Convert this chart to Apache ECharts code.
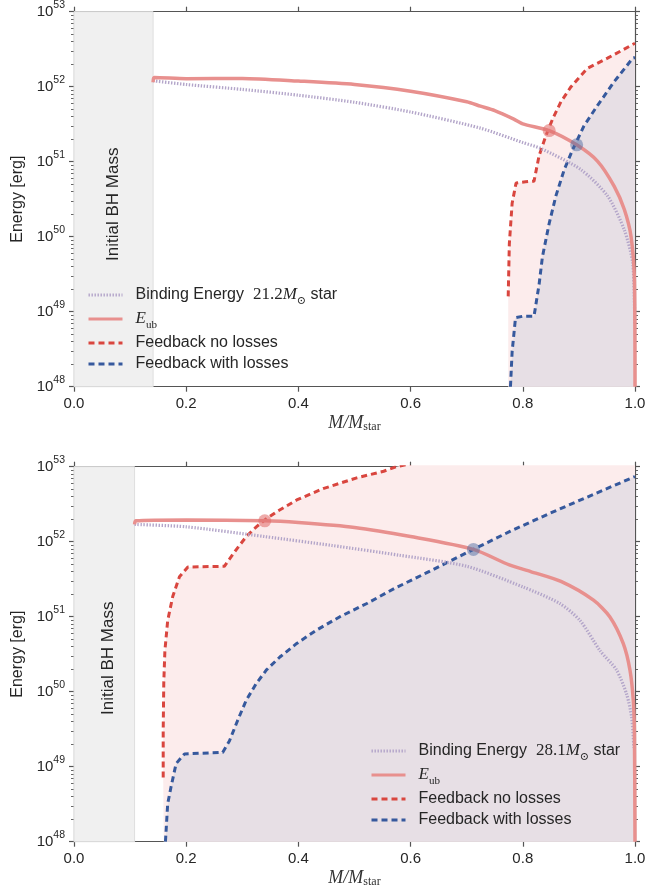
<!DOCTYPE html>
<html>
<head>
<meta charset="utf-8">
<script src="https://cdn.jsdelivr.net/npm/echarts@6/dist/echarts.min.js"></script>
<style>html,body{margin:0;padding:0;background:#fff}#c{width:668px;height:890px}</style>
</head>
<body>
<div id="c"></div>
<script>
// ---------------- data ----------------
const xTicks = [0, 0.2, 0.4, 0.6, 0.8, 1.0];
const yTickExps = [48, 49, 50, 51, 52, 53];
const starMass = ['21.2', '28.1'];
const bhMass = [0.141, 0.108];

// top panel (21.2 Msun)
const topBindX = [0.141, 0.2, 0.3, 0.4, 0.5, 0.6, 0.7245, 0.8, 0.832, 0.903, 0.951, 0.981, 0.996, 0.9995];
const topBindE = [1.2e52, 1.07e52, 9.2e51, 7.7e51, 6.2e51, 4.6e51, 2.8e51, 1.8e51, 1.5e51, 7.9e50, 3.5e50, 1.23e50, 4.4e49, 6.9e48];
const topEubX = [0.141, 0.143, 0.2, 0.3, 0.4, 0.5, 0.6, 0.7, 0.7245, 0.75, 0.784, 0.8, 0.847, 0.896, 0.933, 0.963, 0.981, 0.993, 0.999, 1.0];
const topEubE = [1.15e52, 1.33e52, 1.28e52, 1.29e52, 1.19e52, 1.07e52, 8.7e51, 6.3e51, 5.5e51, 4.8e51, 3.7e51, 3.2e51, 2.6e51, 1.68e51, 1.02e51, 4.7e50, 2.3e50, 1.0e50, 2.6e49, 1e48];
const topNoX = [0.774, 0.776, 0.781, 0.788, 0.805, 0.82, 0.829, 0.841, 0.853, 0.868, 0.886, 0.915, 0.951, 0.975, 1.0];
const topNoE = [1.6e49, 8e49, 2.8e50, 5.2e50, 5.4e50, 5.5e50, 1.2e51, 2.2e51, 3.7e51, 6.3e51, 1.0e52, 1.76e52, 2.4e52, 3.0e52, 3.8e52];
const topLossX = [0.778, 0.781, 0.787, 0.80, 0.82, 0.829, 0.835, 0.847, 0.859, 0.874, 0.888, 0.909, 0.933, 0.963, 0.996, 1.0];
const topLossE = [1e48, 2.95e48, 8.3e48, 8.7e48, 8.7e48, 2.3e49, 5.4e49, 1.5e50, 3.5e50, 7.9e50, 1.4e51, 3.0e51, 5.6e51, 1.17e52, 2.4e52, 2.45e52];
const topCrossNo = [0.847, 2.6e51];
const topCrossLoss = [0.896, 1.68e51];

// bottom panel (28.1 Msun)
const botBindX = [0.108, 0.2, 0.34, 0.46, 0.58, 0.7, 0.8, 0.866, 0.902, 0.938, 0.967, 0.985, 0.994, 0.998];
const botBindE = [1.7e52, 1.58e52, 1.17e52, 8.9e51, 6.6e51, 4.7e51, 2.5e51, 1.5e51, 8.9e50, 3.5e50, 1.95e50, 9.3e49, 4.6e49, 1.8e49];
const botEubX = [0.108, 0.11, 0.2, 0.34, 0.4, 0.5, 0.6, 0.712, 0.776, 0.814, 0.868, 0.926, 0.955, 0.979, 0.991, 0.997, 0.999, 1.0];
const botEubE = [1.7e52, 1.9e52, 1.95e52, 1.9e52, 1.8e52, 1.55e52, 1.17e52, 7.9e51, 4.9e51, 4.0e51, 2.95e51, 1.66e51, 1.0e51, 4.4e50, 1.95e50, 7.6e49, 2.75e49, 1e48];
const botNoX = [0.159, 0.159, 0.16, 0.162, 0.167, 0.176, 0.188, 0.203, 0.268, 0.289, 0.307, 0.325, 0.34, 0.361, 0.397, 0.444, 0.504, 0.552, 0.575, 0.65, 0.75, 0.85, 1.0];
const botNoE = [7.2e48, 3.0e49, 1.29e50, 3.5e50, 8.9e50, 1.86e51, 3.4e51, 4.6e51, 4.7e51, 7.8e51, 1.17e52, 1.58e52, 1.95e52, 2.5e52, 3.6e52, 5.1e52, 7.1e52, 8.7e52, 1.0e53, 1.32e53, 1.82e53, 2.4e53, 3.5e53];
const botLossX = [0.163, 0.167, 0.173, 0.182, 0.197, 0.265, 0.277, 0.292, 0.307, 0.325, 0.343, 0.367, 0.397, 0.432, 0.474, 0.522, 0.572, 0.627, 0.712, 0.778, 0.854, 0.93, 1.0];
const botLossE = [1e48, 3.2e48, 5.4e48, 1.1e49, 1.48e49, 1.55e49, 2.2e49, 4.2e49, 7.7e49, 1.29e50, 1.95e50, 2.9e50, 4.4e50, 6.6e50, 1e51, 1.5e51, 2.4e51, 3.8e51, 7.9e51, 1.38e52, 2.5e52, 4.4e52, 7.4e52];
const botCrossNo = [0.34, 1.9e52];
const botCrossLoss = [0.712, 7.9e51];

// ---------------- styling ----------------
const SANS = "'Liberation Sans', Arial, sans-serif";
const SERIF = "'Liberation Serif', 'DejaVu Serif', serif";
const TXT = '#262626';
const AX = '#555555';
const C_BIND = '#b3a5c9';
const C_EUB = '#e8908e';
const C_NO = '#d9463f';
const C_LOSS = '#36599d';
const F_NO = '#fcecec';
const F_LOSS = '#e7dfe5';

const zip = (xs, ys) => xs.map((x, i) => [x, ys[i]]);
const majors = yTickExps.map(e => Math.pow(10, e));
const minors = [];
for (let e = yTickExps[0]; e < yTickExps[yTickExps.length - 1]; e++) {
  for (let k = 2; k <= 9; k++) minors.push(k * Math.pow(10, e));
}

const grids = [
  { left: 74, top: 11.7, width: 561, height: 375, outerBoundsMode: 'none', containLabel: false },
  { left: 74, top: 466.7, width: 561, height: 375, outerBoundsMode: 'none', containLabel: false }
];

const xAxes = [];
const yAxes = [];
grids.forEach((g, gi) => {
  const base = { type: 'value', gridIndex: gi, min: xTicks[0], max: xTicks[xTicks.length - 1], interval: 0.2,
    splitLine: { show: false },
    axisLine: { show: true, lineStyle: { color: AX, width: 1.2 } },
    axisTick: { show: true, inside: false, length: 5, lineStyle: { color: AX, width: 1.2 } } };
  xAxes.push(Object.assign({}, base, {
    position: 'bottom',
    axisLabel: { show: true, margin: 10, fontSize: 15, fontFamily: SANS, color: TXT, formatter: v => v.toFixed(1) },
    name: '{i|M/M}{s|star}', nameLocation: 'middle', nameGap: 28,
    nameTextStyle: { rich: {
      i: { fontFamily: SERIF, fontStyle: 'italic', fontSize: 18, color: '#333', lineHeight: 18 },
      s: { fontFamily: SERIF, fontSize: 12, color: '#333', verticalAlign: 'bottom', lineHeight: 12 }
    } }
  }));
  xAxes.push(Object.assign({}, base, { position: 'top', axisLabel: { show: false } }));

  const ybase = { type: 'log', logBase: 10, gridIndex: gi, min: majors[0], max: majors[majors.length - 1],
    splitLine: { show: false }, minorTick: { show: false } };
  yAxes.push(Object.assign({}, ybase, {
    position: 'left',
    axisLine: { show: true, lineStyle: { color: AX, width: 1.2 } },
    axisTick: { show: true, inside: false, length: 5, customValues: majors, lineStyle: { color: AX, width: 1.2 } },
    axisLabel: { show: true, margin: 9, customValues: majors,
      formatter: v => '{b|10}{s|' + Math.round(Math.log10(v)) + '}',
      rich: {
        b: { fontFamily: SANS, fontSize: 15, color: TXT, lineHeight: 24 },
        s: { fontFamily: SANS, fontSize: 10.5, color: TXT, lineHeight: 11, verticalAlign: 'top' }
      } },
    name: 'Energy [erg]', nameLocation: 'middle', nameGap: 44, nameRotate: 90,
    nameTextStyle: { fontFamily: SANS, fontSize: 16, color: TXT }
  }));
  yAxes.push(Object.assign({}, ybase, {
    position: 'left', axisLine: { show: false }, axisLabel: { show: false },
    axisTick: { show: true, inside: false, length: 3, customValues: minors, lineStyle: { color: AX, width: 0.9 } }
  }));
  yAxes.push(Object.assign({}, ybase, {
    position: 'right', axisLine: { show: true, lineStyle: { color: AX, width: 1.2 } }, axisLabel: { show: false },
    axisTick: { show: true, inside: false, length: 5, customValues: majors, lineStyle: { color: AX, width: 1.2 } }
  }));
  yAxes.push(Object.assign({}, ybase, {
    position: 'right', axisLine: { show: false }, axisLabel: { show: false },
    axisTick: { show: true, inside: false, length: 3, customValues: minors, lineStyle: { color: AX, width: 0.9 } }
  }));
});

function panelSeries(gi, bh, bindName, bind, eub, no, loss, crossNo, crossLoss, labelOffset) {
  const xi = gi * 2, yi = gi * 4;
  return [
    { type: 'line', name: '_bh' + gi, xAxisIndex: xi, yAxisIndex: yi, data: [], symbol: 'none', silent: true, z: 0,
      markArea: { silent: true,
        itemStyle: { color: '#f0f0f0', borderColor: '#dedede', borderWidth: 1 },
        label: { show: true, position: 'inside', rotate: 90, formatter: 'Initial BH Mass', fontFamily: SANS,
          fontSize: 17, color: TXT, offset: labelOffset },
        data: [[{ xAxis: 0 }, { xAxis: bh }]] } },
    { type: 'line', name: 'Feedback no losses', xAxisIndex: xi, yAxisIndex: yi, data: no, symbol: 'none', z: 2,
      lineStyle: { color: C_NO, width: 3, type: [6, 4] }, itemStyle: { color: C_NO },
      areaStyle: { color: F_NO, opacity: 1, origin: 'start' } },
    { type: 'line', name: 'Feedback with losses', xAxisIndex: xi, yAxisIndex: yi, data: loss, symbol: 'none', z: 3,
      lineStyle: { color: C_LOSS, width: 3, type: [6, 4] }, itemStyle: { color: C_LOSS },
      areaStyle: { color: F_LOSS, opacity: 1, origin: 'start' } },
    { type: 'line', name: bindName, xAxisIndex: xi, yAxisIndex: yi, data: bind, symbol: 'none', z: 4, smooth: 0.25,
      lineStyle: { color: C_BIND, width: 3.2, type: [1.4, 1.6] }, itemStyle: { color: C_BIND } },
    { type: 'line', name: 'E_ub', xAxisIndex: xi, yAxisIndex: yi, data: eub, symbol: 'none', z: 5, smooth: 0.25,
      lineStyle: { color: C_EUB, width: 3.5 }, itemStyle: { color: C_EUB } },
    { type: 'scatter', name: '_cross' + gi, xAxisIndex: xi, yAxisIndex: yi, z: 6, symbolSize: 13, silent: true,
      data: [
        { value: crossNo, itemStyle: { color: 'rgba(226,110,108,0.72)' } },
        { value: crossLoss, itemStyle: { color: 'rgba(75,104,160,0.6)' } }
      ] }
  ];
}

const series = [].concat(
  panelSeries(0, bhMass[0], 'Binding Energy ' + starMass[0], zip(topBindX, topBindE), zip(topEubX, topEubE),
    zip(topNoX, topNoE), zip(topLossX, topLossE), topCrossNo, topCrossLoss, [-5, 0]),
  panelSeries(1, bhMass[1], 'Binding Energy ' + starMass[1], zip(botBindX, botBindE), zip(botEubX, botEubE),
    zip(botNoX, botNoE), zip(botLossX, botLossE), botCrossNo, botCrossLoss, [-4, 4])
);

const legendRich = {
  n: { fontFamily: SERIF, fontSize: 17, color: TXT, lineHeight: 18 },
  m: { fontFamily: SERIF, fontStyle: 'italic', fontSize: 17, color: TXT, lineHeight: 18 },
  sub: { fontFamily: SERIF, fontSize: 11, color: TXT, lineHeight: 18, verticalAlign: 'bottom', padding: [0, 0, -3, 0] }
};
function legendFmt(name) {
  if (name.indexOf('Binding Energy') === 0) {
    return 'Binding Energy  {n|' + name.split(' ')[2] + '}{m|M}{sub|\u2299} star';
  }
  if (name === 'E_ub') return '{m|E}{sub|ub}';
  return name;
}
function makeLegend(left, top, bindName) {
  return { orient: 'vertical', left: left, top: top, padding: 0, itemWidth: 34, itemHeight: 14, itemGap: 3,
    selectedMode: false, formatter: legendFmt,
    itemStyle: { opacity: 0 },
    lineStyle: { width: 3 },
    textStyle: { fontFamily: SANS, fontSize: 16, color: TXT, lineHeight: 18, padding: [0, 0, 0, 8], rich: legendRich },
    data: [bindName, 'E_ub', 'Feedback no losses', 'Feedback with losses'] };
}

const chart = echarts.init(document.getElementById('c'), null, { renderer: 'canvas' });
chart.setOption({
  animation: false,
  backgroundColor: '#ffffff',
  grid: grids,
  xAxis: xAxes,
  yAxis: yAxes,
  legend: [
    makeLegend(87, 286, 'Binding Energy ' + starMass[0]),
    makeLegend(370, 742, 'Binding Energy ' + starMass[1])
  ],
  series: series
});
</script>
</body>
</html>
